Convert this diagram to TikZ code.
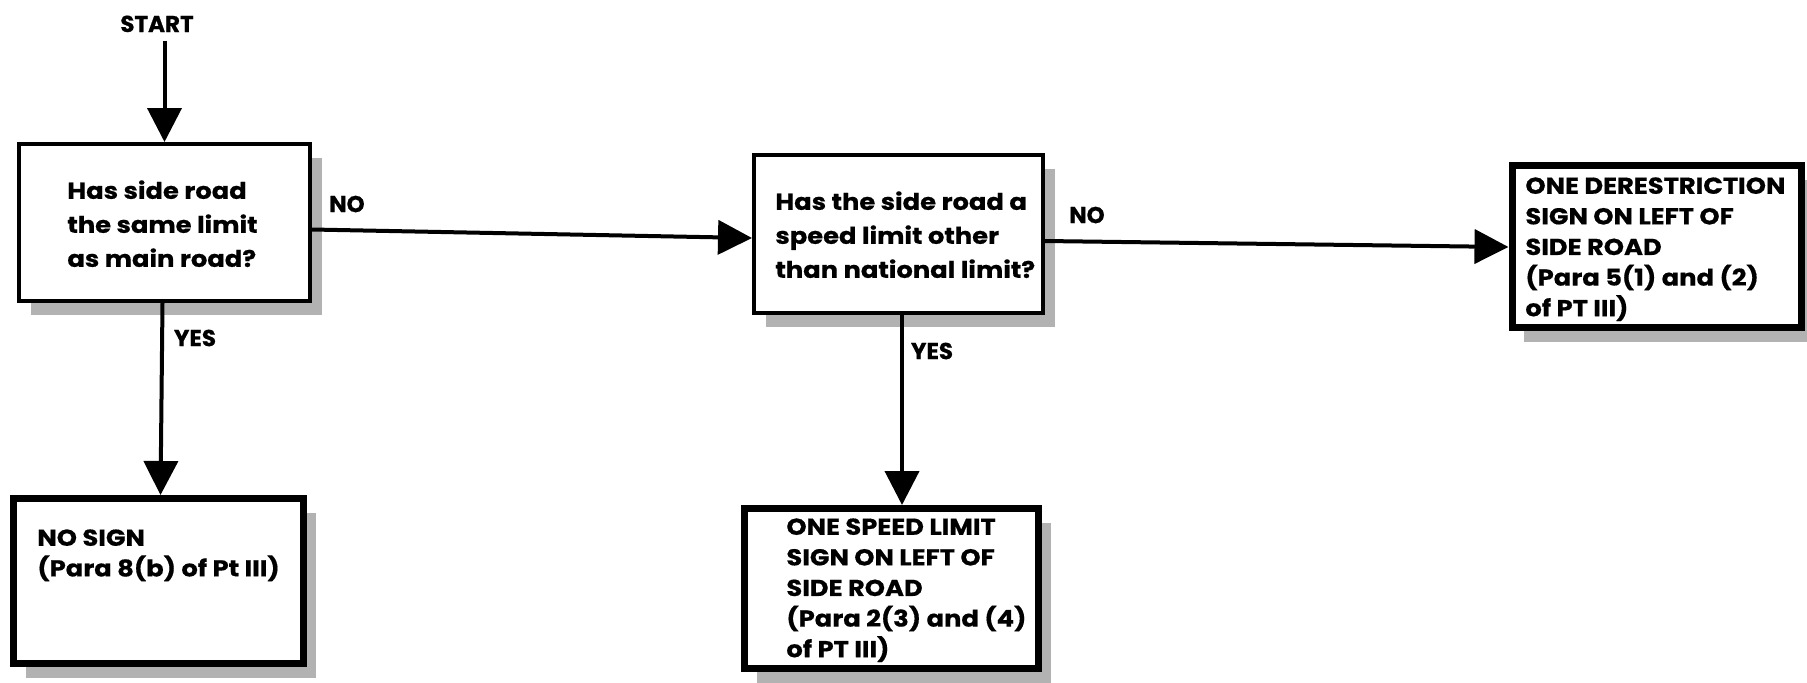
\documentclass[tikz,border=0pt]{standalone}
\usepackage{fontspec}
\setmainfont{Poppins}[FakeStretch=1.12, BoldFeatures={FakeBold=0.6}]
\newfontfamily\lblfont{Poppins}[BoldFeatures={FakeBold=0.6}]
\usetikzlibrary{arrows.meta,shadows}
\begin{document}
\begin{tikzpicture}[x=0.5pt,y=-0.5pt,
  txt/.style={font=\bfseries\fontsize{11.5}{17}\selectfont, inner sep=0pt, align=left, anchor=north west},
  txtb/.style={txt, font=\bfseries\fontsize{11.5}{15.3}\selectfont},
  lbl/.style={font=\lblfont\bfseries\fontsize{11.5}{13.5}\selectfont, inner sep=0pt},
  shad/.style={general shadow={fill=gray!60, shadow xshift=6pt, shadow yshift=-7pt}},
  question/.style={draw, line width=2pt, fill=white, shad, inner sep=0pt},
  result/.style={draw, line width=3.5pt, fill=white, shad, inner sep=0pt},
  arr/.style={line width=2pt, -{Triangle[length=17pt,width=17pt]}}]
\useasboundingbox (0,0) rectangle (1807,682);

% boxes
\node[question, minimum width=145.5pt, minimum height=78.5pt] (b1) at (164.5,222.5) {};
\node[question, minimum width=144.5pt, minimum height=79pt] (b2) at (898.5,234) {};
\node[result, minimum width=144.5pt, minimum height=81pt] (b3) at (1656.5,246.5) {};
\node[result, minimum width=145pt, minimum height=82.5pt] (b4) at (158.5,581) {};
\node[result, minimum width=147pt, minimum height=80pt] (b5) at (891.5,588.5) {};

% texts
\node[txt] (t1) at (67,180) {Has side road\\the same limit\\as main road?};
\node[txt] (t2) at (775,191) {Has the side road a\\speed limit other\\than national limit?};
\node[txtb] (t3) at (1525,177) {ONE DERESTRICTION\\SIGN ON LEFT OF\\SIDE ROAD\\(Para 5(1) and (2)\\of PT III)};
\node[txtb] (t4) at (37,529) {NO SIGN\\(Para 8(b) of Pt III)};
\node[txtb] (t5) at (786,518) {ONE SPEED LIMIT\\SIGN ON LEFT OF\\SIDE ROAD\\(Para 2(3) and (4)\\of PT III)};

% start
\node[lbl, inner sep=4pt, anchor=base] (start) at (157,32) {START};

% labels
\node[lbl] (no1) at (347,204) {NO};
\node[lbl] (no2) at (1087,215) {NO};
\node[lbl] (yes1) at (195,338) {YES};
\node[lbl] (yes2) at (932,351) {YES};

% connectors
\draw[arr] (start.south -| b1.north) -- (b1.north);
\draw[arr] ([yshift=-3.5pt]b1.east) -- ([yshift=-2pt]b2.west);
\draw[arr] ([yshift=-3.5pt]b2.east) -- ([yshift=-0.25pt]b3.west);
\draw[arr] ([xshift=-1pt]b1.south) -- ([xshift=1pt]b4.north);
\draw[arr] ([xshift=1.75pt]b2.south) -- ([xshift=5.25pt]b5.north);
\end{tikzpicture}
\end{document}
